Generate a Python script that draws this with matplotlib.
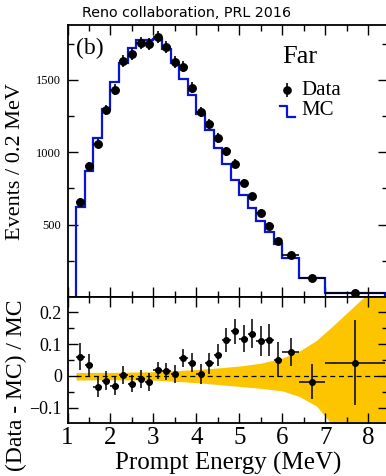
import numpy as np
import matplotlib
matplotlib.use("Agg")
import matplotlib.pyplot as plt
from matplotlib.ticker import MultipleLocator, NullFormatter, FixedLocator

# ---- data ----
edges = [1.2, 1.4, 1.6, 1.8, 2.0, 2.2, 2.4, 2.6, 2.8, 3.0, 3.2, 3.4, 3.6, 3.8,
         4.0, 4.2, 4.4, 4.6, 4.8, 5.0, 5.2, 5.4, 5.6, 5.8, 6.0, 6.4, 7.0, 8.4]
mc = [620, 870, 1101, 1302, 1487, 1619, 1723, 1777, 1777, 1781, 1712, 1615, 1510,
      1395, 1268, 1152, 1032, 916, 810, 705, 616, 527, 446, 365, 268, 134, 25]
data = [659, 902, 1060, 1291, 1434, 1631, 1677, 1754, 1747, 1795, 1730, 1626, 1592,
        1448, 1279, 1194, 1099, 1006, 921, 789, 696, 583, 493, 389, 289, 132, 26]
data_err = [26, 30, 33, 36, 38, 40, 41, 42, 42, 42, 42, 40, 40, 38, 36, 35, 33, 32,
            30, 28, 26, 24, 22, 20, 12, 7, 3]
ratio = [0.060, 0.034, -0.035, -0.015, -0.033, 0.003, -0.025, -0.010, -0.019, 0.018,
         0.015, 0.006, 0.055, 0.042, 0.006, 0.039, 0.066, 0.113, 0.140, 0.117, 0.133,
         0.110, 0.113, 0.050, 0.075, -0.018, 0.042]
ratio_err = [0.042, 0.034, 0.032, 0.030, 0.028, 0.028, 0.027, 0.027, 0.027, 0.027,
             0.027, 0.027, 0.028, 0.029, 0.030, 0.032, 0.035, 0.038, 0.040, 0.042,
             0.045, 0.047, 0.050, 0.055, 0.045, 0.055, 0.133]
# systematic band (upper / lower edges vs energy)
band_e = [1.2, 2.0, 3.0, 4.0, 4.5, 5.0, 5.5, 6.0, 6.4, 6.8, 7.2, 7.6, 8.0, 8.45]
band_hi = [0.011, 0.011, 0.013, 0.020, 0.025, 0.031, 0.040, 0.056, 0.078, 0.112,
           0.160, 0.210, 0.260, 0.330]
band_lo = [-0.013, -0.012, -0.013, -0.021, -0.027, -0.033, -0.039, -0.047, -0.065,
           -0.095, -0.160, -0.225, -0.300, -0.370]
top_yticks = [500, 1000, 1500]

edges = np.array(edges)
centers = (edges[:-1] + edges[1:]) / 2
half_w = (edges[1:] - edges[:-1]) / 2

plt.rcParams["font.family"] = "Liberation Serif"

fig = plt.figure(figsize=(3.86, 4.76), dpi=100)
W, H = 386, 476
left, right = 67.5, 387.5
ax1 = fig.add_axes([left / W, (H - 297) / H, (right - left) / W, (297 - 25) / H])
ax2 = fig.add_axes([left / W, (H - 423) / H, (right - left) / W, (423 - 297) / H])

# ---- top panel ----
ax1.stairs(mc, edges, color="#0a14d8", lw=1.6, baseline=0, fill=False, zorder=2)
ax1.errorbar(centers, data, yerr=data_err, xerr=half_w, fmt="o", color="black",
             ms=5.4, elinewidth=1.2, capsize=0, zorder=3)
ax1.set_xlim(1, 8.45)
ax1.set_ylim(0, 1880)
ax1.yaxis.set_major_locator(FixedLocator(top_yticks))
ax1.yaxis.set_minor_locator(MultipleLocator(250))
ax1.xaxis.set_major_formatter(NullFormatter())

ax1.text(0.026, 0.912, "(b)", transform=ax1.transAxes, fontsize=17, va="center")
ax1.text(0.672, 0.883, "Far", transform=ax1.transAxes, fontsize=19, va="center")
ax1.errorbar([0.685], [0.761], yerr=[0.025], fmt="o", color="black", ms=5.2,
             elinewidth=1.2, transform=ax1.transAxes, clip_on=False)
ax1.text(0.732, 0.761, "Data", transform=ax1.transAxes, fontsize=15, va="center")
ax1.plot([0.664, 0.685, 0.685, 0.711], [0.702, 0.702, 0.661, 0.661],
         color="#0a14d8", lw=1.6, transform=ax1.transAxes)
ax1.text(0.732, 0.684, "MC", transform=ax1.transAxes, fontsize=15, va="center")

# ---- ratio panel ----
ax2.fill_between(band_e, band_lo, band_hi, color="#fcc500", lw=0, zorder=1)
ax2.plot([1.2, 8.45], [0, 0], ls=(0, (4, 3)), color="black", lw=0.9, zorder=2)
ax2.errorbar(centers, ratio, yerr=ratio_err, xerr=half_w, fmt="o", color="black",
             ms=4, elinewidth=1.1, capsize=0, zorder=3)
ax2.set_xlim(1, 8.45)
ax2.set_ylim(-0.148, 0.248)
ax2.yaxis.set_major_locator(MultipleLocator(0.1))
ax2.yaxis.set_minor_locator(MultipleLocator(0.05))
ax2.yaxis.set_major_formatter(lambda v, p: "0" if abs(v) < 1e-9 else f"{v:.1f}".replace("-", "\u2212"))

for ax in (ax1, ax2):
    ax.xaxis.set_major_locator(MultipleLocator(1))
    ax.xaxis.set_minor_locator(MultipleLocator(0.5))
    ax.tick_params(which="both", direction="in", top=True, right=True, width=1.0)
    ax.tick_params(which="major", length=7)
    ax.tick_params(which="minor", length=4)
    for s in ax.spines.values():
        s.set_linewidth(1.3)

ax1.tick_params(axis="y", labelsize=9, pad=5)
ax2.tick_params(axis="y", labelsize=13, pad=4)
ax2.tick_params(axis="x", labelsize=18, pad=3)

fig.text(16 / W, (H - 162) / H, "Events / 0.2 MeV", rotation=90, fontsize=16,
         ha="center", va="center")
fig.text(16 / W, (H - 385) / H, "(Data - MC) / MC", rotation=90, fontsize=17,
         ha="center", va="center")
fig.text(228 / W, (H - 463) / H, "Prompt Energy (MeV)", fontsize=18,
         ha="center", va="center")
fig.text(187 / W, (H - 13) / H, "Reno collaboration, PRL 2016", fontsize=10.3,
         family="DejaVu Sans", ha="center", va="center")

fig.savefig("out.png", dpi=100)
